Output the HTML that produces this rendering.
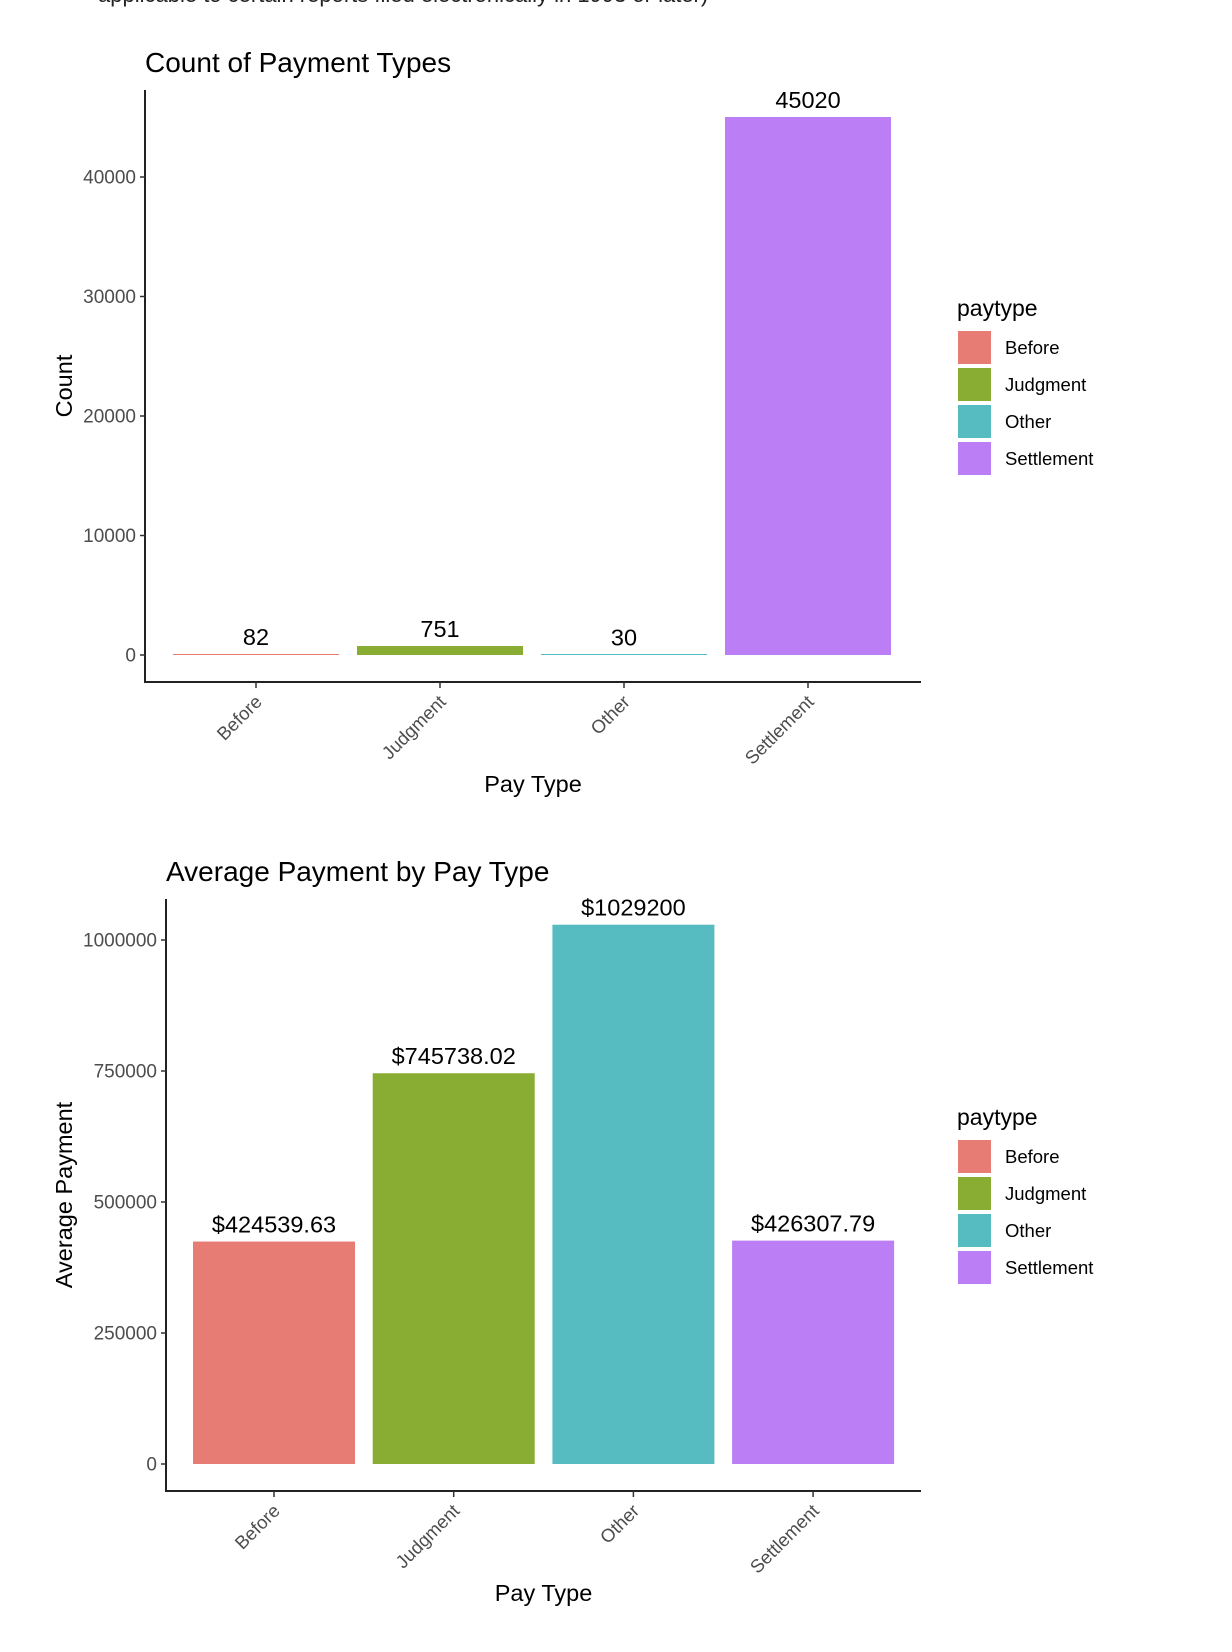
<!DOCTYPE html>
<html><head><meta charset="utf-8"><style>
html,body{margin:0;padding:0;background:#fff;}
svg{display:block;font-family:"Liberation Sans",Arial,sans-serif;}
</style></head><body>
<svg id="svg" width="1232" height="1652" viewBox="0 0 1232 1652" xmlns="http://www.w3.org/2000/svg">
<text x="98" y="2" font-size="22" fill="#222">applicable to certain reports filed electronically in 1993 or later)</text>
<g id="c1"></g>
<g id="c2"></g>
</svg>
<script>
const categories = ["Before","Judgment","Other","Settlement"];
const colors = ["#E67C73","#89AD33","#57BCC1","#BC7EF5"];
const countValues = [82, 751, 30, 45020];
const countLabels = ["82","751","30","45020"];
const countTicks = [0,10000,20000,30000,40000];
const avgValues = [424539.63, 745738.02, 1029200, 426307.79];
const avgLabels = ["$424539.63","$745738.02","$1029200","$426307.79"];
const avgTicks = [0,250000,500000,750000,1000000];

const NS = "http://www.w3.org/2000/svg";
function mk(parent, tag, attrs, text){
  const e = document.createElementNS(NS, tag);
  for (const k in attrs) e.setAttribute(k, attrs[k]);
  if (text !== undefined) e.textContent = text;
  parent.appendChild(e);
  return e;
}

function drawChart(g, cfg){
  const {left, right, top, zeroY, axisY, pxPerUnit, firstCenter, step, barW, values, labels, ticks, title, titleY, yTitle, yTitleX, xTitleY, legendDy} = cfg;
  const y = v => zeroY - v * pxPerUnit;
  const x = i => firstCenter + i * step;

  const t = mk(g, "text", {x:left, y:titleY, "font-size":28, fill:"#000"}, title);
  
  

  values.forEach((v,i)=>{
    const h = Math.max(v*pxPerUnit, 1);
    const r = mk(g, "rect", {x:x(i)-barW/2, y:zeroY-h, width:barW, height:h, fill:colors[i]});
    
    
    const lb = mk(g, "text", {x:x(i), y:y(v)-9, "font-size":23.5, "text-anchor":"middle", fill:"#000"}, labels[i]);
    
    
  });

  const ya = mk(g, "line", {x1:left, y1:top, x2:left, y2:axisY+1, stroke:"#222", "stroke-width":2});
  
  
  const xa = mk(g, "line", {x1:left-1, y1:axisY, x2:right, y2:axisY, stroke:"#222", "stroke-width":2});
  
  

  ticks.forEach(tv=>{
    const ty = y(tv);
    const tk = mk(g, "line", {x1:left-5, y1:ty, x2:left, y2:ty, stroke:"#333", "stroke-width":1.5});
    
    
    const tl = mk(g, "text", {x:left-9, y:ty+6.5, "font-size":19, "text-anchor":"end", fill:"#4d4d4d"}, String(tv));
    
    
  });

  categories.forEach((c,i)=>{
    const cx = x(i);
    const tk = mk(g, "line", {x1:cx, y1:axisY, x2:cx, y2:axisY+6, stroke:"#333", "stroke-width":1.5});
    
    
    const tl = mk(g, "text", {transform:`translate(${cx+7},${axisY+21}) rotate(-45)`, "font-size":18.5, "text-anchor":"end", fill:"#4d4d4d"}, c);
    
    
  });

  const xt = mk(g, "text", {x:(left+right)/2, y:xTitleY, "font-size":23.5, "text-anchor":"middle", fill:"#000"}, "Pay Type");
  
  
  const ycy = (top+axisY)/2;
  const yt = mk(g, "text", {transform:`translate(${yTitleX},${ycy}) rotate(-90)`, "font-size":23.5, "text-anchor":"middle", fill:"#000"}, yTitle);
  
  

  const lg = mk(g, "g", {});
  
  
  const lt = mk(lg, "text", {x:957, y:316+legendDy, "font-size":23, fill:"#000"}, "paytype");
  
  
  categories.forEach((c,i)=>{
    const ky = 331 + legendDy + i*37;
    const k = mk(lg, "rect", {x:958, y:ky, width:33, height:33, fill:colors[i]});
    
    
    const kl = mk(lg, "text", {x:1005, y:ky+23, "font-size":18.5, fill:"#000"}, c);
    
    
  });
}

drawChart(document.getElementById("c1"), {
  left:145, right:921, top:90, zeroY:655, axisY:682, pxPerUnit:478/40000,
  firstCenter:256, step:184, barW:166, values:countValues, labels:countLabels, ticks:countTicks,
  title:"Count of Payment Types", titleY:72, yTitle:"Count", yTitleX:72, xTitleY:792, legendDy:0
});
drawChart(document.getElementById("c2"), {
  left:166, right:921, top:899, zeroY:1464, axisY:1491, pxPerUnit:524/1000000,
  firstCenter:274, step:179.7, barW:162, values:avgValues, labels:avgLabels, ticks:avgTicks,
  title:"Average Payment by Pay Type", titleY:881, yTitle:"Average Payment", yTitleX:72, xTitleY:1601, legendDy:809
});
</script>
</body></html>
